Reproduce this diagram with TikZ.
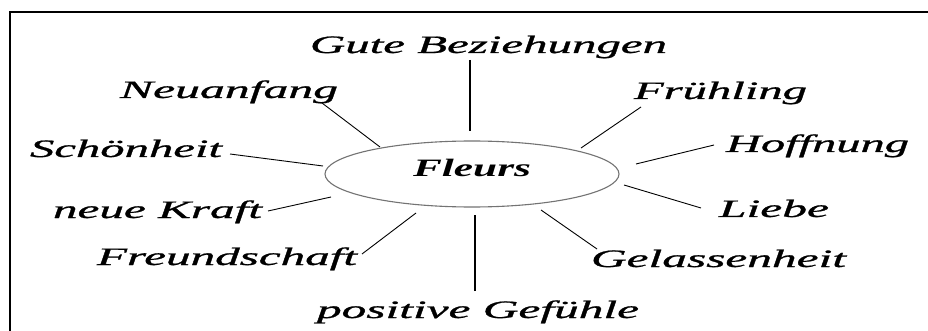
\documentclass[tikz,border=0pt]{standalone}
\usepackage{fontspec}
\setmainfont{Liberation Serif}[ItalicFont={Liberation Serif Italic}, BoldItalicFont={Liberation Serif Bold Italic}, BoldFont={Liberation Serif Bold}]
\newfontfamily\lblfont{Liberation Serif Italic}[FakeBold=0.8]
\usepackage{graphicx}
\newcommand{\wlbl}[2]{\resizebox{#1pt}{\height}{\fontsize{25}{30}\selectfont\lblfont #2}}
\newcommand{\wlblb}[2]{\resizebox{#1pt}{\height}{\fontsize{25}{30}\selectfont\itshape\bfseries #2}}
\tikzset{
  lbl/.style={anchor=base west, inner sep=0pt, outer sep=0pt},
  spoke/.style={draw=black, line width=0.9pt},
  vspoke/.style={draw=black, line width=1.6pt},
  hub/.style={draw=black!55, line width=1.1pt, ellipse, minimum width=294pt, minimum height=66pt, inner sep=0pt}
}
\usetikzlibrary{shapes.geometric}
\begin{document}
\begin{tikzpicture}[x=1pt,y=-1pt]
\useasboundingbox (0,0) rectangle (928,331);
\fill[white] (0,0) rectangle (928,331);
% frame
\coordinate (f1) at (10,331);
\coordinate (f2) at (10,12);
\coordinate (f3) at (928,12);
\draw[line width=1.5pt] (f1) -- (f2) -- (f3);
% hub
\node[hub] (c) at (472,174) {};
\node[lbl] (fl) at (413,177) {\wlblb{118}{Fleurs}};
% labels
\node[lbl] (gb) at (310,53) {\wlbl{357}{Gute Beziehungen}};
\node[lbl] (na) at (120,98) {\wlbl{218}{Neuanfang}};
\node[lbl] (fr) at (634,99) {\wlbl{173}{Frühling}};
\node[lbl] (sc) at (30,157) {\wlbl{192}{Schönheit}};
\node[lbl] (ho) at (726,152) {\wlbl{183}{Hoffnung}};
\node[lbl] (nk) at (53,218) {\wlbl{209}{neue Kraft}};
\node[lbl] (li) at (719,217) {\wlbl{110}{Liebe}};
\node[lbl] (fs) at (97,265) {\wlbl{260}{Freundschaft}};
\node[lbl] (ge) at (591,267) {\wlbl{255}{Gelassenheit}};
\node[lbl] (pg) at (317,318) {\wlbl{322}{positive Gefühle}};
% connector ends
\coordinate (gb1) at (470,60);   \coordinate (gb2) at (470,131);
\coordinate (na1) at (322,103);  \coordinate (na2) at (380,147);
\coordinate (fr1) at (641,107);  \coordinate (fr2) at (581,148);
\coordinate (sc1) at (230,154);  \coordinate (sc2) at (323,166);
\coordinate (ho1) at (714,145);  \coordinate (ho2) at (636,164);
\coordinate (nk1) at (268,211);  \coordinate (nk2) at (331,197);
\coordinate (li1) at (701,208);  \coordinate (li2) at (624,185);
\coordinate (fs1) at (362,254);  \coordinate (fs2) at (416,213);
\coordinate (ge1) at (597,249);  \coordinate (ge2) at (541,210);
\coordinate (pg1) at (475,291);  \coordinate (pg2) at (475,215);
\draw[vspoke] (gb1) -- (gb2);
\draw[spoke] (na1) -- (na2);
\draw[spoke] (fr1) -- (fr2);
\draw[spoke] (sc1) -- (sc2);
\draw[spoke] (ho1) -- (ho2);
\draw[spoke] (nk1) -- (nk2);
\draw[spoke] (li1) -- (li2);
\draw[spoke] (fs1) -- (fs2);
\draw[spoke] (ge1) -- (ge2);
\draw[vspoke] (pg1) -- (pg2);
\end{tikzpicture}
\end{document}
